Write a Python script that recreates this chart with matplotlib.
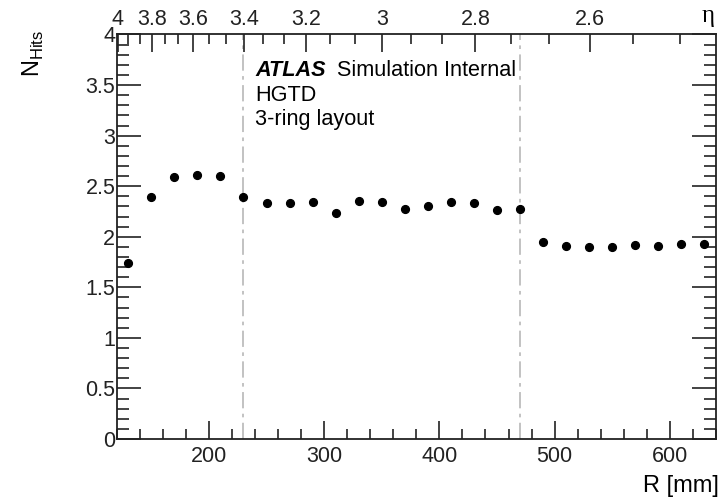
import numpy as np
import matplotlib
matplotlib.use("Agg")
import matplotlib.pyplot as plt
from matplotlib.ticker import MultipleLocator, FixedLocator, NullFormatter, FuncFormatter

plt.rcParams['font.family'] = ['Liberation Sans', 'DejaVu Sans']

# data
r_mm = [130, 150, 170, 190, 210, 230, 250, 270, 290, 310, 330, 350, 370,
        390, 410, 430, 450, 470, 490, 510, 530, 550, 570, 590, 610, 630]
n_hits = [1.74, 2.39, 2.59, 2.61, 2.60, 2.39, 2.335, 2.33, 2.34, 2.235, 2.35, 2.345, 2.27,
          2.30, 2.34, 2.33, 2.265, 2.275, 1.947, 1.908, 1.90, 1.898, 1.914, 1.911, 1.933, 1.927]
ring_edges = [230, 470]

eta_major = [4.0, 3.8, 3.6, 3.4, 3.2, 3.0, 2.8, 2.6]
eta_labels = ['4', '3.8', '3.6', '3.4', '3.2', '3', '2.8', '2.6']
eta_minor = [4.0 - i * 0.2 / 3 for i in range(24)]

# R <-> eta mapping for the top axis (fitted to the reference)
Z_EFF = 3633.0
R_OFF = -12.3


def eta_to_r(eta):
    eta = np.asarray(eta)
    return Z_EFF * np.tan(2 * np.arctan(np.exp(-eta))) + R_OFF


fig = plt.figure(figsize=(7.22, 4.99), dpi=100)
ax = fig.add_axes([0.1616, 0.1202, 0.9917 - 0.1616, 0.9309 - 0.1202])

ax.plot(r_mm, n_hits, 'o', color='black', markersize=5.6, zorder=3)

for r in ring_edges:
    ax.axvline(r, color='#bdbdbd', lw=1.3, dashes=(9, 3, 2, 3), zorder=1)

ax.set_xlim(120, 640)
ax.set_ylim(0, 4)

ax.xaxis.set_major_locator(MultipleLocator(100))
ax.xaxis.set_minor_locator(MultipleLocator(20))
ax.yaxis.set_major_locator(MultipleLocator(0.5))
ax.yaxis.set_minor_locator(MultipleLocator(0.1))
ax.yaxis.set_major_formatter(FuncFormatter(lambda v, p: '%g' % v))

ax.tick_params(axis='both', which='both', direction='in', labelsize=15.5, colors='#222222')
ax.tick_params(axis='x', which='major', length=13, width=1.2, top=False, pad=5)
ax.tick_params(axis='x', which='minor', length=7, width=1.2, top=False)
ax.tick_params(axis='y', which='major', length=17, width=1.2, right=True, pad=1)
ax.tick_params(axis='y', which='minor', length=8.5, width=1.2, right=True)
for s in ax.spines.values():
    s.set_linewidth(1.3)
    s.set_color('#222222')

# top eta axis
axt = ax.twiny()
axt.set_xlim(ax.get_xlim())
axt.xaxis.set_major_locator(FixedLocator(eta_to_r(eta_major)))
axt.set_xticklabels(eta_labels)
axt.xaxis.set_minor_locator(FixedLocator([r for r in eta_to_r(eta_minor) if 120 <= r <= 640]))
axt.xaxis.set_minor_formatter(NullFormatter())
axt.tick_params(axis='x', which='both', direction='in', labelsize=15.5, colors='#222222', pad=3)
axt.tick_params(axis='x', which='major', length=13, width=1.2)
axt.tick_params(axis='x', which='minor', length=7, width=1.2)
for s in axt.spines.values():
    s.set_visible(False)

fig.text(0.99, 0.968, 'η', ha='right', va='center', fontsize=18, family='Liberation Serif')

fig.text(0.995, 0.004, 'R [mm]', ha='right', va='bottom', fontsize=17)
fig.text(0.046, 0.94, r'N$_{\mathregular{Hits}}$', ha='center', va='top', rotation=90, fontsize=17)

ax.text(0.2308, 0.912, 'ATLAS', transform=ax.transAxes, fontsize=15.6, fontweight='bold',
        style='italic', va='center')
ax.text(0.367, 0.912, 'Simulation Internal', transform=ax.transAxes, fontsize=15.6, va='center')
ax.text(0.2308, 0.850, 'HGTD', transform=ax.transAxes, fontsize=15.6, va='center')
ax.text(0.2308, 0.789, '3-ring layout', transform=ax.transAxes, fontsize=15.6, va='center')

fig.savefig('out.png', dpi=100)
